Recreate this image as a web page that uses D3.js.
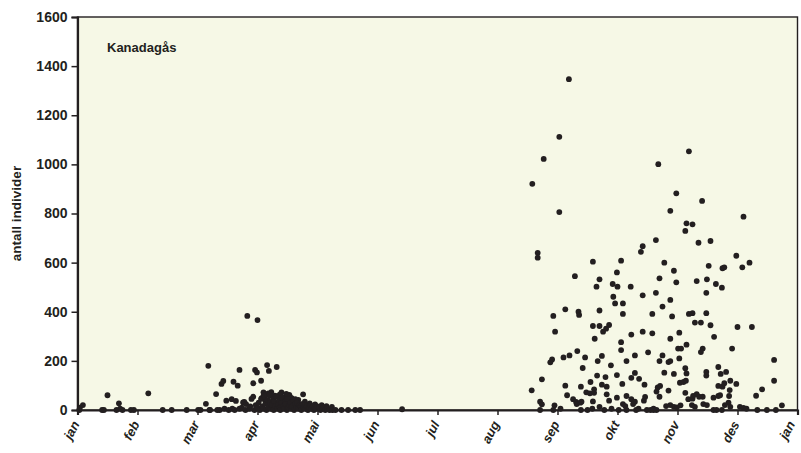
<!DOCTYPE html>
<html>
<head>
<meta charset="utf-8">
<script src="https://cdn.jsdelivr.net/npm/d3@7"></script>
<style>
  html, body { margin: 0; padding: 0; background: #ffffff; }
  svg text { font-family: "Liberation Sans", Arial, Helvetica, sans-serif; }
</style>
</head>
<body>
<svg id="chart" width="801" height="453"></svg>
<script>
// Month tick labels (the year wraps back to January at the right edge)
const monthLabels = ["jan", "feb", "mar", "apr", "mai", "jun", "jul", "aug", "sep", "okt", "nov", "des", "jan"];
const yTicks = [0, 200, 400, 600, 800, 1000, 1200, 1400, 1600];
const speciesName = "Kanadagås";
const yTitle = "antall individer";

// Counts, first half of the year: [position in months from 1 Jan, number of birds]
const springCounts = [
  [0.03, 0], [0.04, 10], [0.09, 20], [0.41, 0], [0.44, 0], [0.50, 60], [0.65, 0], [0.69, 27],
  [0.71, 5], [0.75, 0], [0.89, 0], [0.94, 0], [1.18, 68], [1.42, 0], [1.57, 0], [1.82, 0],
  [2.01, 0], [2.14, 25], [2.18, 180], [2.21, 0], [2.31, 65], [2.37, 0],
  [2.40, 106], [2.43, 118], [2.48, 38], [2.57, 44], [2.60, 115], [2.64, 37], [2.67, 99], [2.70, 163],
  [2.76, 31], [2.78, 33], [2.81, 24], [2.83, 383], [2.90, 45], [2.93, 54], [2.93, 109], [2.96, 163],
  [2.99, 153], [3.00, 366], [3.06, 119], [3.10, 72], [3.16, 183], [3.19, 159], [3.23, 73], [3.32, 175],
  [3.40, 72], [3.53, 61], [3.76, 64],
  [3.07, 48], [3.13, 41], [3.26, 41], [3.35, 54], [3.43, 44], [3.46, 34], [3.63, 44], [3.68, 41],
  [3.79, 34], [3.87, 27], [3.96, 23], [4.07, 20], [4.15, 16], [4.24, 13],
  [3.10, 57], [3.14, 62], [3.18, 68], [3.21, 66], [3.27, 50], [3.29, 58], [3.37, 63], [3.45, 52],
  [3.48, 66], [3.54, 54], [3.57, 48], [3.62, 30],
  [2.05, 0], [2.20, 0], [2.33, 0], [2.45, 5], [2.52, 0], [2.58, 5], [2.62, 0], [2.70, 5], [2.74, 10],
  [2.80, 0], [2.86, 5], [2.88, 15], [2.95, 0], [2.97, 20], [3.00, 10], [3.02, 30], [3.04, 0], [3.06, 45],
  [3.08, 15], [3.10, 5], [3.12, 55], [3.13, 25], [3.15, 0], [3.17, 40], [3.18, 10], [3.20, 60], [3.21, 30],
  [3.22, 5], [3.24, 20], [3.26, 45], [3.27, 0], [3.28, 35], [3.30, 15], [3.31, 55], [3.33, 5], [3.34, 25],
  [3.36, 40], [3.37, 10], [3.38, 0], [3.40, 30], [3.41, 50], [3.43, 15], [3.44, 5], [3.46, 35], [3.47, 25],
  [3.49, 0], [3.50, 45], [3.51, 10], [3.53, 20], [3.55, 30], [3.56, 5], [3.58, 15], [3.60, 40], [3.61, 0],
  [3.63, 25], [3.65, 10], [3.66, 30], [3.68, 5], [3.70, 20], [3.72, 15], [3.73, 0], [3.75, 25], [3.77, 10],
  [3.79, 20], [3.80, 5], [3.82, 15], [3.84, 0], [3.86, 10], [3.88, 20], [3.90, 5], [3.92, 15], [3.94, 0],
  [3.96, 10], [3.98, 5], [4.00, 15], [4.03, 10], [4.05, 0], [4.08, 5], [4.10, 10], [4.13, 0], [4.16, 5],
  [4.20, 0], [4.25, 0], [4.30, 0], [4.40, 0], [4.51, 0], [4.63, 0], [4.71, 0], [5.41, 3]
];

// Counts, autumn migration: [position in months from 1 Jan, number of birds]
const autumnCounts = [
  [8.19, 1347], [8.03, 1112], [7.77, 1022], [7.58, 921], [8.03, 806], [7.67, 640], [7.67, 620],
  [9.68, 1001], [9.64, 692], [9.42, 667], [9.39, 644], [10.19, 1053], [9.98, 882], [10.41, 851],
  [9.88, 811], [10.15, 760], [10.25, 756], [10.13, 729], [10.35, 681], [10.55, 688], [11.10, 787],
  [10.98, 628],
  [8.59, 604], [9.06, 608], [8.29, 545], [8.70, 532], [8.65, 502], [8.99, 560], [8.92, 513], [9.00, 502],
  [9.22, 502], [9.70, 536], [9.64, 477], [9.42, 467], [8.93, 461], [8.96, 434], [9.09, 434], [9.09, 391],
  [7.93, 383], [8.13, 410], [8.35, 400], [8.36, 387], [8.70, 405], [9.58, 391], [8.59, 342], [8.70, 342],
  [8.86, 346], [8.81, 331], [8.76, 319], [7.96, 319], [8.62, 290], [9.23, 307], [9.42, 319], [9.58, 312],
  [9.06, 276], [9.06, 244], [9.51, 235], [9.29, 222], [9.15, 199], [9.70, 199], [8.33, 240], [8.20, 222],
  [8.10, 214], [8.46, 214], [8.74, 220], [8.67, 199], [7.91, 206], [7.88, 194], [8.42, 171], [8.89, 182],
  [7.74, 125], [7.57, 80], [8.13, 99], [8.39, 95], [8.66, 140], [8.80, 134], [8.55, 114], [8.74, 103],
  [8.82, 95], [8.61, 84], [8.99, 142], [9.29, 151], [9.23, 131], [9.36, 127], [9.08, 106], [9.45, 103],
  [8.16, 60], [8.48, 72], [8.54, 68], [8.61, 70], [8.82, 64], [8.86, 38], [8.59, 35], [8.26, 44],
  [8.31, 33], [8.32, 24], [8.38, 30], [8.40, 34], [7.71, 34], [7.74, 23], [7.95, 19], [8.99, 50],
  [9.15, 57], [9.23, 44], [9.29, 34], [9.26, 24], [9.09, 24], [9.13, 16], [9.46, 53], [9.44, 38],
  [8.70, 13], [9.65, 75], [9.70, 54],
  [7.71, 0], [7.93, 0], [8.39, 0], [9.15, 0], [9.31, 0], [9.49, 0], [8.05, 5], [8.50, 0], [8.58, 5],
  [8.78, 0], [8.90, 5], [9.02, 0], [9.35, 5], [9.55, 0], [9.60, 5],
  [9.78, 600], [9.94, 567], [10.52, 587], [10.75, 577], [10.78, 581], [11.08, 581], [11.20, 600],
  [9.98, 520], [10.32, 525], [10.49, 532], [10.64, 513], [10.74, 498], [10.48, 477], [9.88, 448],
  [9.75, 421], [9.91, 381], [10.19, 391], [10.25, 394], [10.48, 394], [10.29, 356], [10.39, 356],
  [10.55, 345], [11.00, 338], [11.24, 338], [10.03, 315], [9.88, 290], [10.61, 298], [10.15, 266],
  [10.01, 250], [10.06, 250], [10.42, 250], [10.39, 236], [10.91, 250], [9.75, 222], [9.85, 195],
  [9.88, 199], [10.03, 210], [11.61, 204], [9.78, 152], [9.94, 147], [10.13, 170], [10.15, 149],
  [10.48, 155], [10.48, 140], [10.68, 175], [10.72, 147], [10.81, 155], [10.04, 111], [10.10, 114],
  [10.14, 119], [10.88, 119], [10.98, 106], [11.61, 119], [9.67, 92], [9.71, 98], [9.85, 79],
  [10.68, 98], [10.75, 95], [10.78, 109], [10.87, 81], [10.86, 57], [11.41, 84], [11.31, 58],
  [10.13, 70], [10.32, 65], [10.36, 54], [10.42, 54], [10.60, 50], [10.68, 57], [10.71, 60],
  [10.18, 44], [10.25, 46], [10.26, 57], [10.85, 30], [10.79, 20], [10.88, 13], [10.43, 24],
  [10.49, 20], [9.81, 16], [9.88, 20], [9.94, 13], [9.99, 11], [10.05, 19], [10.24, 20], [10.29, 13],
  [11.04, 13], [11.10, 9], [11.15, 5], [11.74, 19],
  [11.64, 0], [11.49, 0], [11.33, 0], [9.60, 0], [9.65, 0], [10.60, 0], [10.65, 0], [10.74, 0]
];

const svg = d3.select("#chart");
const plot = { left: 77.5, right: 797.5, top: 17, bottom: 410 };

const x = d3.scaleLinear().domain([0, 12]).range([plot.left, plot.right]);
const y = d3.scaleLinear().domain([0, 1600]).range([plot.bottom, plot.top]);

// Plot background and frame
svg.append("rect")
  .attr("x", plot.left).attr("y", plot.top)
  .attr("width", plot.right - plot.left).attr("height", plot.bottom - plot.top)
  .attr("fill", "#f6f8e6")
  .attr("stroke", "#231f20").attr("stroke-width", 1.4);

// Y axis
const yAxis = svg.append("g")
  .attr("transform", `translate(${plot.left},0)`)
  .call(d3.axisLeft(y).tickValues(yTicks).tickSize(6).tickPadding(4).tickFormat(d3.format("d")));
yAxis.select(".domain").attr("stroke", "#231f20").attr("stroke-width", 2.2);
yAxis.selectAll(".tick line").attr("stroke", "#231f20").attr("stroke-width", 1.5);
yAxis.selectAll(".tick text")
  .attr("font-size", 14).attr("font-weight", "bold").attr("fill", "#231f20");

// X axis with month labels; the closing January label is nudged in so it stays on the page
const lastTick = monthLabels.length - 1;
const xAxis = svg.append("g")
  .attr("transform", `translate(0,${plot.bottom})`)
  .call(d3.axisBottom(x).tickValues(d3.range(monthLabels.length)).tickSize(5)
    .tickFormat(i => monthLabels[i]));
xAxis.select(".domain").attr("stroke", "#231f20").attr("stroke-width", 2.2);
xAxis.selectAll(".tick line").attr("stroke", "#231f20").attr("stroke-width", 1.5);
xAxis.selectAll(".tick text")
  .attr("font-size", 13).attr("font-weight", "bold").attr("font-style", "italic")
  .attr("fill", "#231f20")
  .attr("text-anchor", "end")
  .attr("dy", null).attr("y", 0)
  .attr("transform", (d, i) => i === lastTick
    ? "translate(-2.5,14) rotate(-62)"
    : "translate(2,14) rotate(-62)");

// Observations
const allCounts = springCounts.concat(autumnCounts);
svg.append("g")
  .selectAll("circle")
  .data(allCounts)
  .join("circle")
  .attr("cx", d => x(d[0]))
  .attr("cy", d => y(d[1]))
  .attr("r", 2.9)
  .attr("fill", "#231f20");

// Species label inside the plot
svg.append("text")
  .attr("x", 107).attr("y", 52)
  .attr("font-size", 13).attr("font-weight", "bold").attr("fill", "#231f20")
  .text(speciesName);

// Y axis title
svg.append("text")
  .attr("transform", `translate(21,${(plot.top + plot.bottom) / 2}) rotate(-90)`)
  .attr("text-anchor", "middle")
  .attr("font-size", 13.5).attr("font-weight", "bold").attr("fill", "#231f20")
  .text(yTitle);
</script>
</body>
</html>
